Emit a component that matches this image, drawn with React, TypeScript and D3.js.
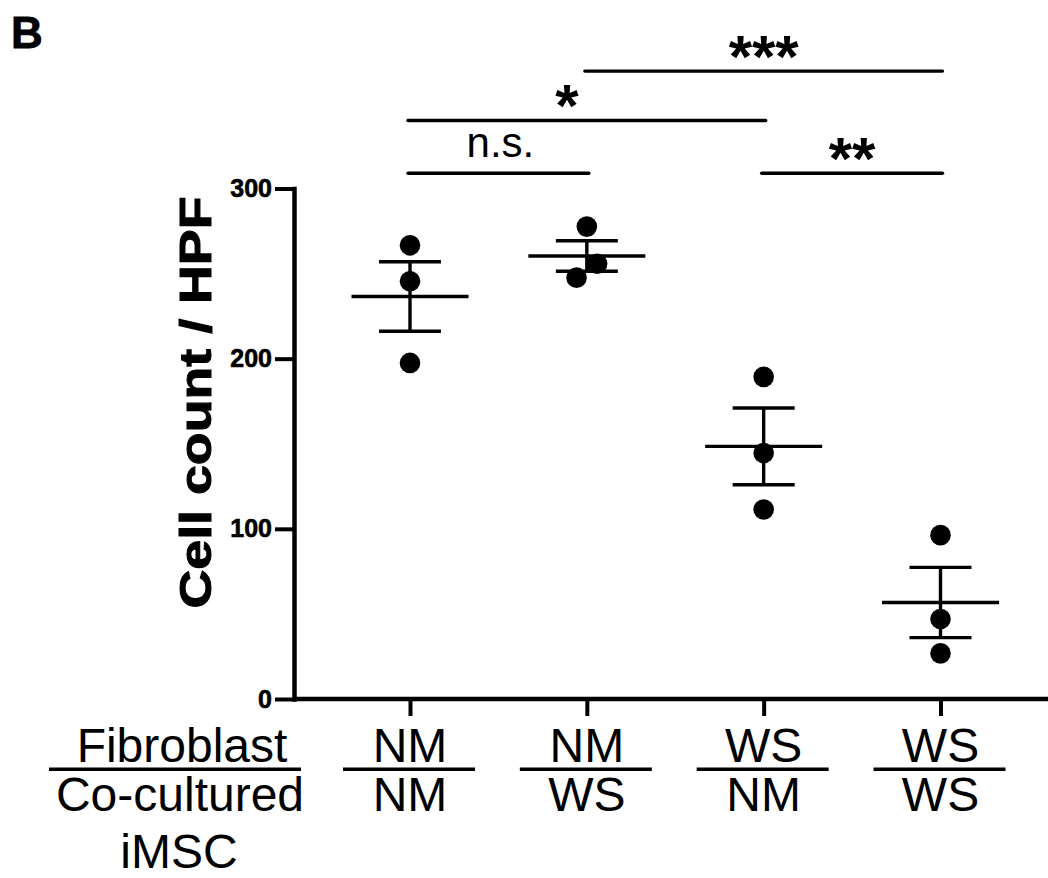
import React, { useEffect, useRef } from 'react';
import * as d3 from 'd3';

// groups on the x axis (fibroblast / co-cultured iMSC)
const groups = ['NM-NM', 'NM-WS', 'WS-NM', 'WS-WS'];
const fibroblastLabels = ['NM', 'NM', 'WS', 'WS'];
const imscLabels = ['NM', 'WS', 'NM', 'WS'];

// cell counts per HPF, one array per group
const nmNm = [266.6, 245.5, 197.5];
const nmWs = [277.6, 247.6, 255.8];
const wsNm = [189.3, 144.6, 111.4];
const wsWs = [96.3, 47.0, 26.8];
const groupValues = [nmNm, nmWs, wsNm, wsWs];

const yTicks = [0, 100, 200, 300];

// significance brackets
const compFrom = ['NM-NM', 'NM-NM', 'NM-WS', 'WS-NM'];
const compTo = ['NM-WS', 'WS-NM', 'WS-WS', 'WS-WS'];
const compLabel = ['n.s.', '*', '***', '**'];
const compLevel = [309, 340, 369, 309];

const FONT = "'Liberation Sans', Arial, Helvetica, sans-serif";

const App = () => {
  const ref = useRef<SVGSVGElement>(null);

  useEffect(() => {
    drawChart();
  }, []);

  const drawChart = () => {
    const svg = d3.select(ref.current);
    svg.selectAll('*').remove();

    const y = d3.scaleLinear().domain([0, 300]).range([699, 188.5]);
    const x = d3.scalePoint<string>().domain(groups).range([410, 940.5]);
    const axisX = 294;
    const r = 10.3;

    svg.append('rect').attr('width', 1048).attr('height', 878).attr('fill', '#fff');

    // panel letter
    svg.append('text')
      .attr('x', 11).attr('y', 48)
      .attr('font-family', FONT).attr('font-weight', 'bold').attr('font-size', 44)
      .attr('stroke', '#000').attr('stroke-width', 0.8)
      .text('B');

    // y axis
    const yAxis = svg.append('g')
      .attr('transform', `translate(${axisX},0)`)
      .call(d3.axisLeft(y).tickValues(yTicks).tickSize(19).tickSizeOuter(0).tickPadding(3));
    yAxis.select('.domain').attr('stroke-width', 4.5).attr('stroke-linecap', 'square');
    yAxis.selectAll('.tick line').attr('stroke-width', 4);
    yAxis.selectAll('.tick text')
      .attr('font-family', FONT).attr('font-weight', 'bold').attr('font-size', 25)
      .attr('stroke', '#000').attr('stroke-width', 0.6)
      .attr('fill', '#000');

    // x axis
    svg.append('line')
      .attr('x1', axisX).attr('x2', 1048)
      .attr('y1', y(0)).attr('y2', y(0))
      .attr('stroke', '#000').attr('stroke-width', 4.5);
    const xAxis = svg.append('g')
      .attr('transform', `translate(0,${y(0)})`)
      .call(d3.axisBottom(x).tickSize(17).tickSizeOuter(0).tickFormat(() => ''));
    xAxis.select('.domain').remove();
    xAxis.selectAll('.tick line').attr('stroke-width', 4);

    // y axis title
    svg.append('text')
      .attr('transform', 'translate(211,402.5) rotate(-90)')
      .attr('text-anchor', 'middle')
      .attr('font-family', FONT).attr('font-weight', 'bold').attr('font-size', 44)
      .attr('stroke', '#000').attr('stroke-width', 1)
      .attr('textLength', 412).attr('lengthAdjust', 'spacingAndGlyphs')
      .text('Cell count / HPF');

    // points, mean and SEM
    groups.forEach((g, gi) => {
      const vals = groupValues[gi];
      const cx = x(g)!;
      const mean = d3.mean(vals)!;
      const sem = d3.deviation(vals)! / Math.sqrt(vals.length);

      // spread points that overlap vertically
      const sorted = vals.map((v, i) => ({ v, i })).sort((a, b) => a.v - b.v);
      const offsets: number[] = new Array(vals.length).fill(0);
      let cluster: { v: number; i: number }[] = [];
      const flush = () => {
        const n = cluster.length;
        cluster.forEach((p, k) => { offsets[p.i] = (k - (n - 1) / 2) * 2 * r; });
        cluster = [];
      };
      sorted.forEach((p) => {
        if (cluster.length && Math.abs(y(p.v) - y(cluster[cluster.length - 1].v)) >= 2 * r) flush();
        cluster.push(p);
      });
      flush();

      const grp = svg.append('g');
      grp.selectAll('circle')
        .data(vals)
        .enter().append('circle')
        .attr('cx', (d, i) => cx + offsets[i])
        .attr('cy', d => y(d))
        .attr('r', r)
        .attr('fill', '#000');

      const line = (x1: number, x2: number, y1: number, y2: number) =>
        grp.append('line').attr('x1', x1).attr('x2', x2).attr('y1', y1).attr('y2', y2)
          .attr('stroke', '#000').attr('stroke-width', 3.4);
      line(cx, cx, y(mean + sem), y(mean - sem));
      line(cx - 31, cx + 31, y(mean + sem), y(mean + sem));
      line(cx - 31, cx + 31, y(mean - sem), y(mean - sem));
      line(cx - 58.5, cx + 58.5, y(mean), y(mean));
    });

    // significance brackets
    compLabel.forEach((lab, i) => {
      const ly = y(compLevel[i]);
      const x1 = x(compFrom[i])!;
      const x2 = x(compTo[i])!;
      svg.append('line')
        .attr('x1', x1 - 2).attr('x2', x2 + 2).attr('y1', ly).attr('y2', ly)
        .attr('stroke', '#000').attr('stroke-width', 3.4).attr('stroke-linecap', 'round');
      const isStar = lab !== 'n.s.';
      svg.append('text')
        .attr('x', (x1 + x2) / 2 + (lab === '*' ? -20 : 0) + (lab === 'n.s.' ? 2 : 0))
        .attr('y', isStar ? ly + 6 : ly - 16.6)
        .attr('text-anchor', 'middle')
        .attr('font-family', FONT)
        .attr('font-weight', isStar ? 'bold' : 'normal')
        .attr('font-size', isStar ? 60 : 42)
        .text(lab);
    });

    // category labels
    const labelText = (tx: number, ty: number, s: string) =>
      svg.append('text').attr('x', tx).attr('y', ty).attr('text-anchor', 'middle')
        .attr('font-family', FONT).attr('font-size', 48).text(s);
    const rule = (x1: number, x2: number, ly: number) =>
      svg.append('line').attr('x1', x1).attr('x2', x2).attr('y1', ly).attr('y2', ly)
        .attr('stroke', '#000').attr('stroke-width', 3.5);

    groups.forEach((g, gi) => {
      const cx = x(g)!;
      labelText(cx, 761.5, fibroblastLabels[gi]);
      rule(cx - 67, cx + 65, 769.3);
      labelText(cx, 811, imscLabels[gi]);
    });

    labelText(182, 761.5, 'Fibroblast');
    rule(49, 301, 769.3);
    labelText(180, 810.5, 'Co-cultured');
    labelText(179, 868, 'iMSC');
  };

  return (
    <svg ref={ref} width={1048} height={878} style={{ position: 'absolute', left: 0, top: 0, display: 'block' }} />
  );
};

export default App;
